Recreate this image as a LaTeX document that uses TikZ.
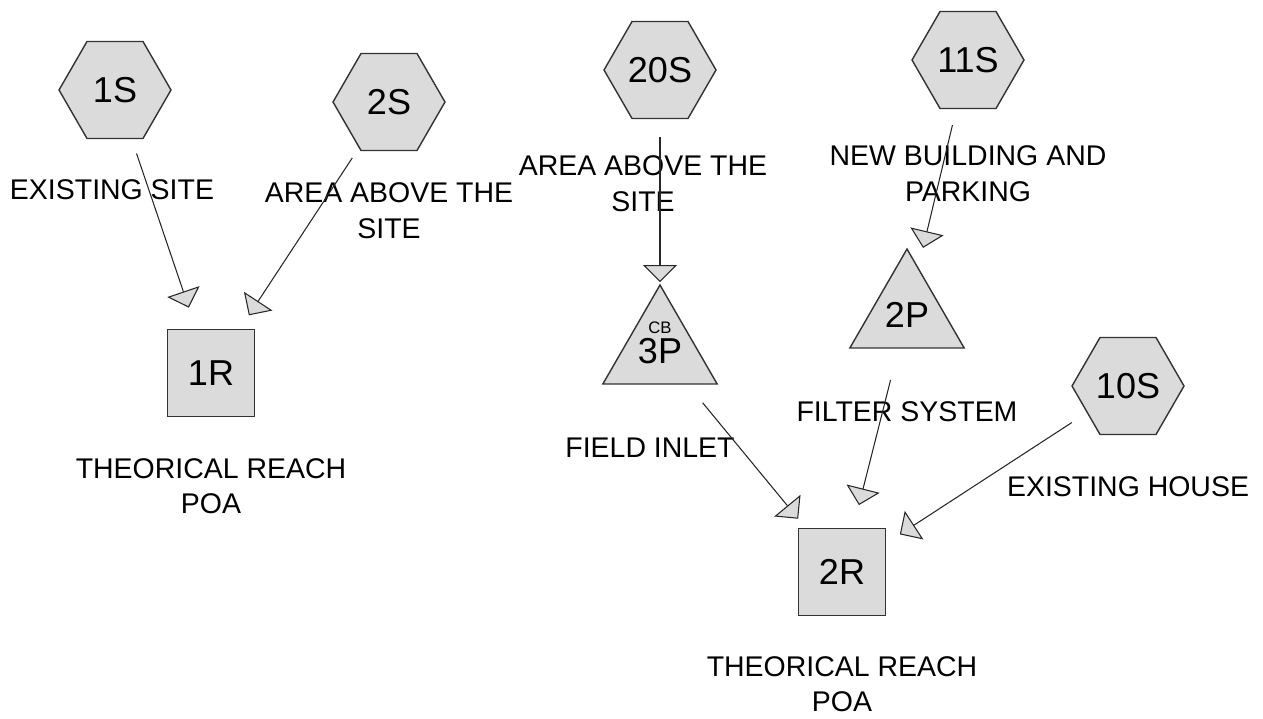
\documentclass[tikz,border=0pt]{standalone}
\usepackage{fontspec}
\setmainfont{Liberation Sans}
\usetikzlibrary{positioning, arrows.meta, shapes.geometric}

\begin{document}
\begin{tikzpicture}[x=0.02cm, y=-0.02cm]
	% Define styles
	\tikzset{
		basin/.style={regular polygon, regular polygon sides=6, draw=black!80, fill=black!14, line width=0.8pt, minimum size=2.24cm, inner sep=0pt, font=\fontsize{20.5}{24}\selectfont},
		pond/.style={basin, regular polygon sides=3, minimum size=2.64cm},
		reach/.style={rectangle, draw=black!80, fill=black!14, line width=0.8pt, minimum size=1.74cm, inner sep=0pt, font=\fontsize{20.5}{24}\selectfont},
		note/.style={align=center, inner sep=0pt, font=\fontsize{16.2}{20}\selectfont},
		flow/.style={draw=black!85, line width=0.6pt, -{Triangle[width=0.68cm, length=0.34cm, fill=black!14]}, shorten <=1.34cm, shorten >=1.38cm}
	}
	\useasboundingbox (0,0) rectangle (1263,719);
	% Nodes
	\node[basin] (s1) at (115,90) {1S};
	\node[basin] (s2) at (389,102) {2S};
	\node[basin] (s20) at (660,70) {20S};
	\node[basin] (s11) at (968,60) {11S};
	\node[basin] (s10) at (1128,386) {10S};
	
	\node[pond] (p3) at (660,351) {3P};
	\node[pond] (p2) at (907,315) {2P};
	\node[inner sep=0pt, font=\fontsize{9.5}{10}\selectfont, above=0.34cm of p3.center] (cb) {CB};
	
	\node[reach] (r1) at (211,373) {1R};
	\node[reach] (r2) at (842,572) {2R};
	
	\node[note, below=0.81cm of s1, xshift=-0.06cm] (l1) {EXISTING SITE};
	\node[note, below=0.63cm of s2] (l2) {AREA ABOVE THE\\SITE};
	\node[note, below=0.73cm of s20, xshift=-0.34cm] (l20) {AREA ABOVE THE\\SITE};
	\node[note, below=0.73cm of s11] (l11) {NEW BUILDING AND\\PARKING};
	\node[note, below=0.83cm of s10] (l10) {EXISTING HOUSE};
	\node[note, below=1.06cm of p3, xshift=-0.2cm] (lp3) {FIELD INLET};
	\node[note, below=1.06cm of p2] (lp2) {FILTER SYSTEM};
	\node[note, below=0.82cm of r1] (lr1) {THEORICAL REACH\\POA};
	\node[note, below=0.8cm of r2] (lr2) {THEORICAL REACH\\POA};
	
	% Arrows
	\draw[flow] (s1.center) -- (r1.center);
	\draw[flow] (s2.center) -- (r1.center);
	
	\draw[flow] (s20.center) -- (p3.center);
	\draw[flow] (s11.center) -- (p2.center);
	
	\draw[flow] (p3.center) -- (r2.center);
	\draw[flow] (p2.center) -- (r2.center);
	\draw[flow] (s10.center) -- (r2.center);
\end{tikzpicture}
\end{document}
